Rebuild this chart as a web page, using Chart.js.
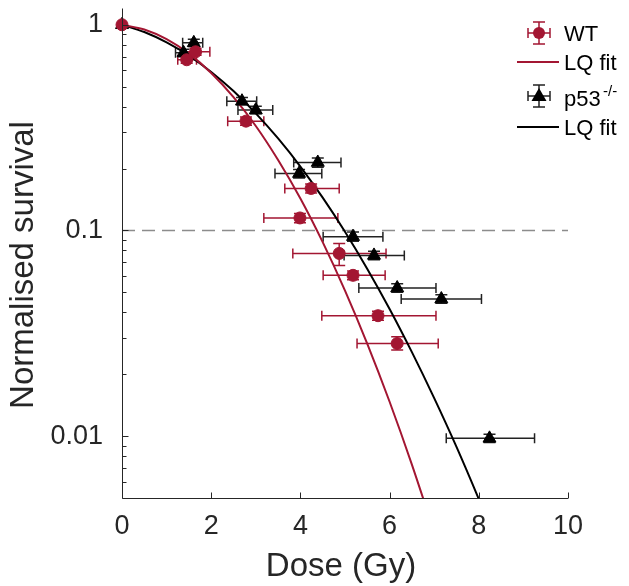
<!DOCTYPE html>
<html>
<head>
<meta charset="utf-8">
<script src="https://cdn.jsdelivr.net/npm/chart.js@4.4.1/dist/chart.umd.min.js"></script>
<style>
  html, body { margin: 0; padding: 0; background: #fff; }
  #wrap { width: 629px; height: 586px; }
</style>
</head>
<body>
<div id="wrap"><canvas id="chart" width="629" height="586"></canvas></div>
<script>
// WT cells: dose (Gy), survival and error bar ends
const wtDose   = [0, 1.45, 1.65, 2.78, 3.99, 4.24, 4.87, 5.18, 5.74, 6.17];
const wtSurv   = [1, 0.676, 0.739, 0.340, 0.115, 0.160, 0.0773, 0.0605, 0.0385, 0.0282];
const wtDoseLo = [0, 1.25, 1.36, 2.37, 3.18, 3.65, 3.83, 4.51, 4.48, 5.27];
const wtDoseHi = [0, 1.67, 1.97, 3.18, 4.84, 4.87, 5.92, 5.90, 7.04, 7.09];
const wtSurvLo = [1, 0.65, 0.71, 0.325, 0.109, 0.152, 0.0676, 0.0575, 0.0366, 0.0262];
const wtSurvHi = [1, 0.70, 0.77, 0.356, 0.121, 0.168, 0.0863, 0.0635, 0.0405, 0.0304];

// p53 -/- cells
const p53Dose   = [0, 1.38, 1.61, 2.69, 3.00, 3.97, 4.39, 5.18, 5.65, 6.17, 7.16, 8.24];
const p53Surv   = [1, 0.731, 0.817, 0.425, 0.385, 0.189, 0.214, 0.0933, 0.0756, 0.0525, 0.0464, 0.00975];
const p53DoseLo = [0, 1.20, 1.36, 2.35, 2.60, 3.43, 3.85, 4.51, 4.98, 5.31, 6.26, 7.27];
const p53DoseHi = [0, 1.56, 1.81, 3.02, 3.38, 4.48, 4.91, 5.85, 6.33, 7.04, 8.06, 9.25];
const p53SurvLo = [1, 0.70, 0.785, 0.408, 0.369, 0.180, 0.203, 0.0885, 0.0720, 0.0500, 0.0442, 0.0093];
const p53SurvHi = [1, 0.76, 0.85, 0.443, 0.402, 0.198, 0.225, 0.0983, 0.0793, 0.0551, 0.0487, 0.0102];

// LQ fit curves
const wtFitDose = [0, 0.5, 1, 1.5, 2, 2.5, 3, 3.5, 4, 4.5, 5, 5.5, 6, 6.5, 7];
const wtFit     = [1, 0.948, 0.851, 0.724, 0.583, 0.445, 0.322, 0.220, 0.143, 0.0877, 0.0510, 0.0281, 0.01469, 0.00727, 0.00341];
const p53FitDose = [0, 0.5, 1, 1.5, 2, 2.5, 3, 3.5, 4, 4.5, 5, 5.5, 6, 6.5, 7, 7.5, 8, 8.5];
const p53Fit     = [1, 0.922, 0.821, 0.708, 0.590, 0.476, 0.371, 0.280, 0.2045, 0.1443, 0.0985, 0.0650, 0.0415, 0.0256, 0.0153, 0.00886, 0.00494, 0.00267];

// 10% survival reference line
const refDose = [0, 10];
const refSurv = [0.1, 0.1];

const xTicks = [0, 2, 4, 6, 8, 10];
const yTicks = [0.01, 0.1, 1];

const RED = 'rgb(163, 22, 50)';
const AXIS = '#262626';
const FONT = "'Liberation Sans', Arial, Helvetica, sans-serif";

const toPts = (xs, ys) => xs.map((x, i) => ({ x: x, y: ys[i] }));

function drawErrorBars(ctx, xs, ys, dose, surv, dLo, dHi, sLo, sHi, color) {
    ctx.save();
    ctx.strokeStyle = color;
    ctx.lineWidth = 1.5;
    for (let i = 0; i < dose.length; i++) {
        const px = xs.getPixelForValue(dose[i]);
        const py = ys.getPixelForValue(surv[i]);
        ctx.beginPath();
        if (dHi[i] > dLo[i]) {
            const x1 = xs.getPixelForValue(dLo[i]), x2 = xs.getPixelForValue(dHi[i]);
            ctx.moveTo(x1, py); ctx.lineTo(x2, py);
            ctx.moveTo(x1, py - 5); ctx.lineTo(x1, py + 5);
            ctx.moveTo(x2, py - 5); ctx.lineTo(x2, py + 5);
        }
        if (sHi[i] > sLo[i]) {
            const y1 = ys.getPixelForValue(sLo[i]), y2 = ys.getPixelForValue(sHi[i]);
            ctx.moveTo(px, y1); ctx.lineTo(px, y2);
            ctx.moveTo(px - 6, y1); ctx.lineTo(px + 6, y1);
            ctx.moveTo(px - 6, y2); ctx.lineTo(px + 6, y2);
        }
        ctx.stroke();
    }
    ctx.restore();
}

function legendBars(ctx, x, y, color) {
    ctx.strokeStyle = color;
    ctx.lineWidth = 1.5;
    ctx.beginPath();
    ctx.moveTo(x - 11, y); ctx.lineTo(x + 11, y);
    ctx.moveTo(x - 11, y - 5); ctx.lineTo(x - 11, y + 5);
    ctx.moveTo(x + 11, y - 5); ctx.lineTo(x + 11, y + 5);
    ctx.moveTo(x, y - 11); ctx.lineTo(x, y + 11);
    ctx.moveTo(x - 6, y - 11); ctx.lineTo(x + 6, y - 11);
    ctx.moveTo(x - 6, y + 11); ctx.lineTo(x + 6, y + 11);
    ctx.stroke();
}

const decorations = {
    id: 'decorations',
    beforeDatasetsDraw(chart) {
        const { ctx, scales: { x, y } } = chart;
        drawErrorBars(ctx, x, y, wtDose, wtSurv, wtDoseLo, wtDoseHi, wtSurvLo, wtSurvHi, RED);
        drawErrorBars(ctx, x, y, p53Dose, p53Surv, p53DoseLo, p53DoseHi, p53SurvLo, p53SurvHi, '#222');
    },
    afterDraw(chart) {
        const { ctx, chartArea: a, scales: { x, y } } = chart;
        ctx.save();
        // axes, ticks pointing inward
        ctx.strokeStyle = AXIS;
        ctx.lineWidth = 1;
        ctx.beginPath();
        const lx = Math.round(a.left) + 0.5, by = Math.round(a.bottom) + 0.5;
        ctx.moveTo(lx, a.top); ctx.lineTo(lx, by); ctx.lineTo(a.right, by);
        xTicks.forEach(v => {
            const px = Math.round(x.getPixelForValue(v)) + 0.5;
            ctx.moveTo(px, by); ctx.lineTo(px, by - 6);
        });
        yTicks.forEach(v => {
            const py = Math.round(y.getPixelForValue(v)) + 0.5;
            ctx.moveTo(lx, py); ctx.lineTo(lx + 6, py);
        });
        for (let dec = 0.001; dec < 1; dec *= 10) {
            for (let k = 2; k <= 9; k++) {
                const v = k * dec;
                if (v <= y.min || v >= y.max) continue;
                const py = Math.round(y.getPixelForValue(v)) + 0.5;
                ctx.moveTo(lx, py); ctx.lineTo(lx + 4, py);
            }
        }
        ctx.stroke();

        // axis titles
        ctx.fillStyle = AXIS;
        ctx.font = '33px ' + FONT;
        ctx.textAlign = 'center';
        ctx.textBaseline = 'alphabetic';
        ctx.fillText('Dose (Gy)', (a.left + a.right) / 2 - 4, 576);
        ctx.save();
        ctx.translate(33, 265);
        ctx.rotate(-Math.PI / 2);
        ctx.fillText('Normalised survival', 0, 0);
        ctx.restore();

        // legend
        ctx.textAlign = 'left';
        ctx.fillStyle = '#000';
        ctx.font = '22px ' + FONT;
        legendBars(ctx, 539, 33, RED);
        ctx.fillStyle = RED;
        ctx.beginPath(); ctx.arc(539, 33, 6, 0, Math.PI * 2); ctx.fill();
        ctx.fillStyle = '#000';
        ctx.fillText('WT', 564, 41);

        ctx.strokeStyle = RED; ctx.lineWidth = 2;
        ctx.beginPath(); ctx.moveTo(517, 62); ctx.lineTo(559, 62); ctx.stroke();
        ctx.fillText('LQ fit', 564, 70);

        legendBars(ctx, 539, 96, '#222');
        ctx.beginPath();
        ctx.moveTo(539, 88); ctx.lineTo(546.5, 101); ctx.lineTo(531.5, 101); ctx.closePath();
        ctx.fill();
        ctx.fillText('p53', 564, 106);
        ctx.font = '15px ' + FONT;
        ctx.fillText('-/-', 603, 96);

        ctx.font = '22px ' + FONT;
        ctx.strokeStyle = '#000'; ctx.lineWidth = 2;
        ctx.beginPath(); ctx.moveTo(517, 127); ctx.lineTo(559, 127); ctx.stroke();
        ctx.fillText('LQ fit', 564, 135);
        ctx.restore();
    }
};

new Chart(document.getElementById('chart'), {
    type: 'scatter',
    data: {
        datasets: [
            {
                label: 'WT',
                data: toPts(wtDose, wtSurv),
                pointStyle: 'circle',
                pointRadius: 6,
                backgroundColor: RED,
                borderColor: RED,
                borderWidth: 1,
                clip: false
            },
            {
                label: 'p53 -/-',
                data: toPts(p53Dose, p53Surv),
                pointStyle: 'triangle',
                pointRadius: 7.5,
                backgroundColor: '#000',
                borderColor: '#000',
                borderWidth: 1,
                clip: false
            },
            {
                type: 'line',
                label: 'LQ fit',
                data: toPts(wtFitDose, wtFit),
                borderColor: RED,
                borderWidth: 2,
                pointRadius: 0,
                cubicInterpolationMode: 'monotone',
                fill: false
            },
            {
                type: 'line',
                label: 'LQ fit',
                data: toPts(p53FitDose, p53Fit),
                borderColor: '#000',
                borderWidth: 2,
                pointRadius: 0,
                cubicInterpolationMode: 'monotone',
                fill: false
            },
            {
                type: 'line',
                label: '10%',
                data: toPts(refDose, refSurv),
                borderColor: 'rgb(140,140,140)',
                borderWidth: 1.5,
                borderDash: [13, 7],
                pointRadius: 0,
                fill: false
            }
        ]
    },
    options: {
        responsive: false,
        animation: false,
        layout: { padding: { top: 3, right: 61, left: 0, bottom: 0 } },
        plugins: {
            legend: { display: false },
            tooltip: { enabled: false }
        },
        scales: {
            x: {
                type: 'linear',
                min: 0,
                max: 10,
                afterBuildTicks: s => { s.ticks = xTicks.map(v => ({ value: v })); },
                ticks: { font: { family: FONT, size: 27 }, color: AXIS, padding: 12, maxRotation: 0 },
                grid: { display: false, drawTicks: false },
                border: { display: false },
                afterFit: s => { s.height = 88; s.paddingLeft = 0; s.paddingRight = 0; }
            },
            y: {
                type: 'logarithmic',
                min: 0.005,
                max: 1.2,
                afterBuildTicks: s => { s.ticks = yTicks.map(v => ({ value: v })); },
                ticks: { font: { family: FONT, size: 27 }, color: AXIS, padding: 19, callback: v => String(v) },
                grid: { display: false, drawTicks: false },
                border: { display: false },
                afterFit: s => { s.width = 122; s.paddingTop = 0; s.paddingBottom = 0; }
            }
        }
    },
    plugins: [decorations]
});
</script>
</body>
</html>
